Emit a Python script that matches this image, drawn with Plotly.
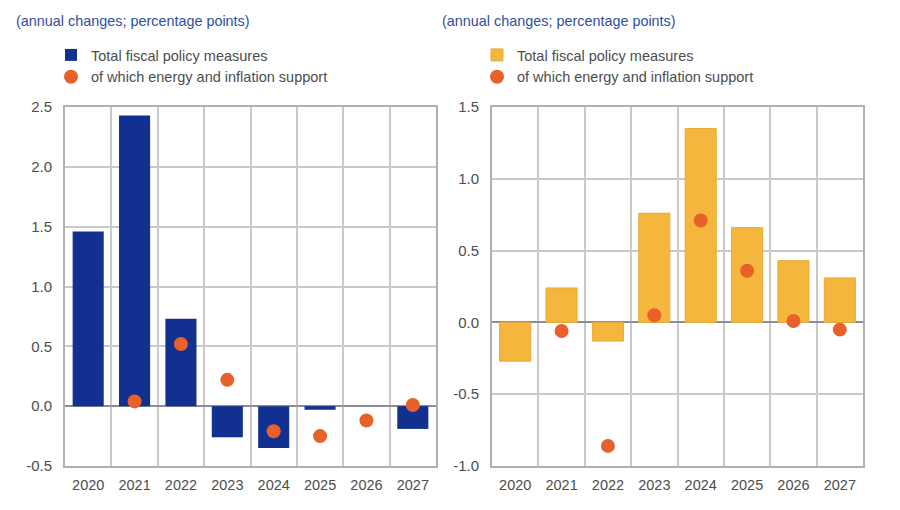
import plotly.graph_objects as go

years = ["2020", "2021", "2022", "2023", "2024", "2025", "2026", "2027"]
left_bars = [1.46, 2.43, 0.73, -0.26, -0.35, -0.03, 0.0, -0.19]
left_dots = [None, 0.04, 0.52, 0.22, -0.21, -0.25, -0.12, 0.01]
right_bars = [-0.27, 0.24, -0.13, 0.76, 1.35, 0.66, 0.43, 0.31]
right_dots = [None, -0.06, -0.86, 0.05, 0.71, 0.36, 0.01, -0.05]
bar_name = "Total fiscal policy measures"
dot_name = "of which energy and inflation support"
subtitle = "(annual changes; percentage points)"
left_ticks = [-0.5, 0.0, 0.5, 1.0, 1.5, 2.0, 2.5]
right_ticks = [-1.0, -0.5, 0.0, 0.5, 1.0, 1.5]
left_tick_text = ["-0.5", "0.0", "0.5", "1.0", "1.5", "2.0", "2.5"]
right_tick_text = ["-1.0", "-0.5", "0.0", "0.5", "1.0", "1.5"]

W, H = 900, 510
PAGE = 8  # the page's own body margin shifts the figure by this much
BLUE = "#12308f"
YELLOW = "#f4b63c"
YELLOW_EDGE = "#e6ab3a"
ORANGE = "#e8602a"
GRID = "#c9c9c9"
BORDER = "#b0b0b0"
ZERO = "#8c8c94"
TEXT = "#4d4d4d"
FONT = "Liberation Sans"


def px(v):
    return (v - PAGE) / W


def py(v):
    return 1 - (v - PAGE) / H


fig = go.Figure()
fig.add_bar(x=years, y=left_bars, name=bar_name, marker=dict(color=BLUE, line_width=0),
            width=0.67, xaxis="x", yaxis="y", legend="legend")
fig.add_scatter(x=years, y=left_dots, name=dot_name, mode="markers",
                marker=dict(color=ORANGE, size=14), xaxis="x", yaxis="y", legend="legend")
fig.add_bar(x=years, y=right_bars, name=bar_name,
            marker=dict(color=YELLOW, line=dict(color=YELLOW_EDGE, width=1)),
            width=0.67, xaxis="x2", yaxis="y2", legend="legend2")
fig.add_scatter(x=years, y=right_dots, name=dot_name, mode="markers",
                marker=dict(color=ORANGE, size=14), xaxis="x2", yaxis="y2", legend="legend2")

xcommon = dict(type="category", tickson="boundaries", showgrid=True, gridcolor=GRID, gridwidth=1.5,
               showline=True, linecolor=BORDER, linewidth=2, mirror=True, ticks="", zeroline=False,
               range=[-0.5, 7.5], tickfont=dict(size=14.5, color=TEXT, family=FONT), ticklabelstandoff=5)
ycommon = dict(showgrid=True, gridcolor=GRID, gridwidth=1.5, showline=True, linecolor=BORDER, linewidth=2,
               mirror=True, ticks="", zeroline=True, zerolinecolor=ZERO, zerolinewidth=2,
               tickfont=dict(size=15, color=TEXT, family=FONT), ticklabelstandoff=8)

legend_common = dict(bgcolor="rgba(0,0,0,0)", font=dict(size=14.5, color=TEXT, family=FONT),
                     xanchor="left", yanchor="top", tracegroupgap=0, itemwidth=30,
                     traceorder="normal")

fig.update_layout(
    width=W, height=H, autosize=False, paper_bgcolor="white", plot_bgcolor="white",
    margin=dict(l=0, r=0, t=0, b=0, autoexpand=False), barmode="overlay", showlegend=True,
    font=dict(family=FONT),
    xaxis=dict(domain=[px(65), px(436)], anchor="y", **xcommon),
    yaxis=dict(domain=[py(466), py(107)], anchor="x", range=[-0.5, 2.5],
               tickvals=left_ticks, ticktext=left_tick_text, **ycommon),
    xaxis2=dict(domain=[px(492), px(863)], anchor="y2", **xcommon),
    yaxis2=dict(domain=[py(466), py(107)], anchor="x2", range=[-1.0, 1.5],
                tickvals=right_ticks, ticktext=right_tick_text, **ycommon),
    legend=dict(x=px(51), y=py(39), **legend_common),
    legend2=dict(x=px(477), y=py(39), **legend_common),
    annotations=[
        dict(text=subtitle, xref="paper", yref="paper", x=px(14), y=py(21), xanchor="left",
             yanchor="middle", showarrow=False, font=dict(size=14.4, color="#2f4f9e", family=FONT)),
        dict(text=subtitle, xref="paper", yref="paper", x=px(440), y=py(21), xanchor="left",
             yanchor="middle", showarrow=False, font=dict(size=14.4, color="#2f4f9e", family=FONT)),
    ],
)
fig.write_html("out.html")
